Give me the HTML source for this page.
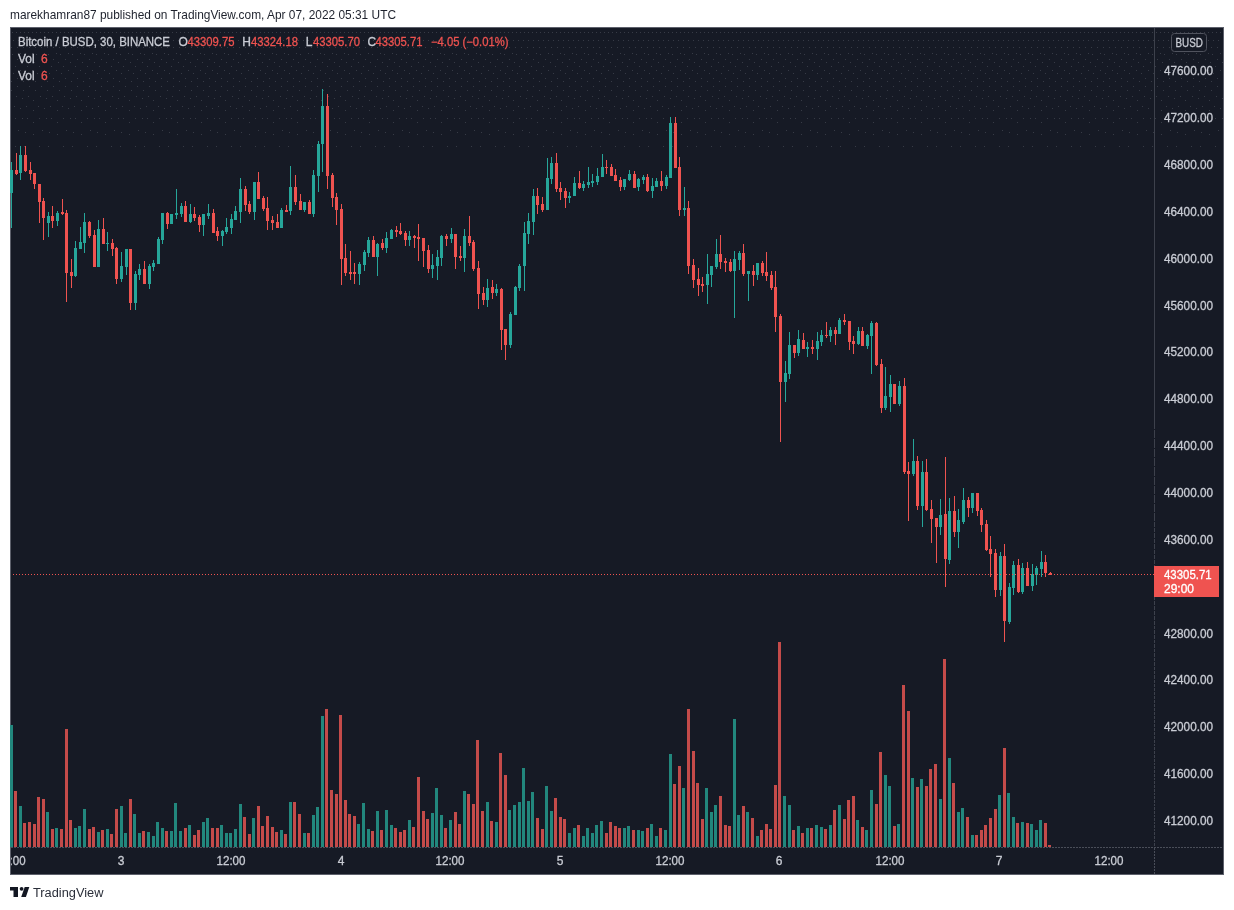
<!DOCTYPE html>
<html><head><meta charset="utf-8"><style>
html,body{margin:0;padding:0;background:#fff;width:1234px;height:910px;overflow:hidden}
svg{display:block;will-change:transform}
text{font-family:"Liberation Sans",sans-serif}
.b text{stroke:currentColor;stroke-width:0.35px}
</style></head><body>
<svg width="1234" height="910" viewBox="0 0 1234 910" shape-rendering="crispEdges">
<rect x="0" y="0" width="1234" height="910" fill="#ffffff"/>
<text x="10" y="19" font-size="13" fill="#1e222d" textLength="386" lengthAdjust="spacingAndGlyphs">marekhamran87 published on TradingView.com, Apr 07, 2022 05:31 UTC</text>
<rect x="10" y="27" width="1214" height="848" fill="#5d606b"/>
<rect x="11" y="28" width="1212" height="846" fill="#161a25"/>
<path d="M12 32h1M16 32h1M20 32h1M24 32h1M28 32h1M32 32h1M36 32h1M40 32h1M44 32h1M48 32h1M52 32h1M56 32h1M60 32h1M64 32h1M68 32h1M72 32h1M76 32h1M80 32h1M84 32h1M88 32h1M92 32h1M96 32h1M100 32h1M104 32h1M108 32h1M112 32h1M116 32h1M120 32h1M124 32h1M128 32h1M132 32h1M136 32h1M140 32h1M144 32h1M148 32h1M152 32h1M156 32h1M160 32h1M164 32h1M168 32h1M172 32h1M176 32h1M180 32h1M184 32h1M188 32h1M192 32h1M196 32h1M200 32h1M204 32h1M208 32h1M212 32h1M216 32h1M220 32h1M224 32h1M228 32h1M232 32h1M236 32h1M240 32h1M244 32h1M248 32h1M252 32h1M256 32h1M260 32h1M264 32h1M268 32h1M272 32h1M276 32h1M280 32h1M284 32h1M288 32h1M292 32h1M296 32h1M300 32h1M304 32h1M308 32h1M312 32h1M316 32h1M320 32h1M324 32h1M328 32h1M332 32h1M336 32h1M340 32h1M344 32h1M348 32h1M352 32h1M356 32h1M360 32h1M364 32h1M368 32h1M372 32h1M376 32h1M380 32h1M384 32h1M388 32h1M392 32h1M396 32h1M400 32h1M404 32h1M408 32h1M412 32h1M416 32h1M420 32h1M424 32h1M428 32h1M432 32h1M436 32h1M440 32h1M444 32h1M448 32h1M452 32h1M456 32h1M460 32h1M464 32h1M468 32h1M472 32h1M476 32h1M480 32h1M484 32h1M488 32h1M492 32h1M496 32h1M500 32h1M504 32h1M508 32h1M512 32h1M516 32h1M520 32h1M524 32h1M528 32h1M532 32h1M536 32h1M540 32h1M544 32h1M548 32h1M552 32h1M556 32h1M560 32h1M564 32h1M568 32h1M572 32h1M576 32h1M580 32h1M584 32h1M588 32h1M592 32h1M596 32h1M600 32h1M604 32h1M608 32h1M612 32h1M616 32h1M620 32h1M624 32h1M628 32h1M632 32h1M636 32h1M640 32h1M644 32h1M648 32h1M652 32h1M656 32h1M660 32h1M664 32h1M668 32h1M672 32h1M676 32h1M680 32h1M684 32h1M688 32h1M692 32h1M696 32h1M700 32h1M704 32h1M708 32h1M712 32h1M716 32h1M720 32h1M724 32h1M728 32h1M732 32h1M736 32h1M740 32h1M744 32h1M748 32h1M752 32h1M756 32h1M760 32h1M764 32h1M768 32h1M772 32h1M776 32h1M780 32h1M784 32h1M788 32h1M792 32h1M796 32h1M800 32h1M804 32h1M808 32h1M812 32h1M816 32h1M820 32h1M824 32h1M828 32h1M832 32h1M836 32h1M840 32h1M844 32h1M848 32h1M852 32h1M856 32h1M860 32h1M864 32h1M868 32h1M872 32h1M876 32h1M880 32h1M884 32h1M888 32h1M892 32h1M896 32h1M900 32h1M904 32h1M908 32h1M912 32h1M916 32h1M920 32h1M924 32h1M928 32h1M932 32h1M936 32h1M940 32h1M944 32h1M948 32h1M952 32h1M956 32h1M960 32h1M964 32h1M968 32h1M972 32h1M976 32h1M980 32h1M984 32h1M988 32h1M992 32h1M996 32h1M1000 32h1M1004 32h1M1008 32h1M1012 32h1M1016 32h1M1020 32h1M1024 32h1M1028 32h1M1032 32h1M1036 32h1M1040 32h1M1044 32h1M1048 32h1M1052 32h1M1056 32h1M1060 32h1M1064 32h1M1068 32h1M1072 32h1M1076 32h1M1080 32h1M1084 32h1M1088 32h1M1092 32h1M1096 32h1M1100 32h1M1104 32h1M1108 32h1M1112 32h1M1116 32h1M1120 32h1M1124 32h1M1128 32h1M1132 32h1M1136 32h1M1140 32h1M1144 32h1M1148 32h1M1152 32h1M1156 32h1M1160 32h1M1164 32h1M1168 32h1M1172 32h1M1176 32h1M1180 32h1M1184 32h1M1188 32h1M1192 32h1M1196 32h1M1200 32h1M1204 32h1M1208 32h1M1212 32h1M1216 32h1M1220 32h1M13 40h1M18 40h1M23 40h1M28 40h1M33 40h1M38 40h1M43 40h1M48 40h1M53 40h1M58 40h1M63 40h1M68 40h1M73 40h1M78 40h1M83 40h1M88 40h1M93 40h1M98 40h1M103 40h1M108 40h1M113 40h1M118 40h1M123 40h1M128 40h1M133 40h1M138 40h1M143 40h1M148 40h1M153 40h1M158 40h1M163 40h1M168 40h1M173 40h1M178 40h1M183 40h1M188 40h1M193 40h1M198 40h1M203 40h1M208 40h1M213 40h1M218 40h1M223 40h1M228 40h1M233 40h1M238 40h1M243 40h1M248 40h1M253 40h1M258 40h1M263 40h1M268 40h1M273 40h1M278 40h1M283 40h1M288 40h1M293 40h1M298 40h1M303 40h1M308 40h1M313 40h1M318 40h1M323 40h1M328 40h1M333 40h1M338 40h1M343 40h1M348 40h1M353 40h1M358 40h1M363 40h1M368 40h1M373 40h1M378 40h1M383 40h1M388 40h1M393 40h1M398 40h1M403 40h1M408 40h1M413 40h1M418 40h1M423 40h1M428 40h1M433 40h1M438 40h1M443 40h1M448 40h1M453 40h1M458 40h1M463 40h1M468 40h1M473 40h1M478 40h1M483 40h1M488 40h1M493 40h1M498 40h1M503 40h1M508 40h1M513 40h1M518 40h1M523 40h1M528 40h1M533 40h1M538 40h1M543 40h1M548 40h1M553 40h1M558 40h1M563 40h1M568 40h1M573 40h1M578 40h1M583 40h1M588 40h1M593 40h1M598 40h1M603 40h1M608 40h1M613 40h1M618 40h1M623 40h1M628 40h1M633 40h1M638 40h1M643 40h1M648 40h1M653 40h1M658 40h1M663 40h1M668 40h1M673 40h1M678 40h1M683 40h1M688 40h1M693 40h1M698 40h1M703 40h1M708 40h1M713 40h1M718 40h1M723 40h1M728 40h1M733 40h1M738 40h1M743 40h1M748 40h1M753 40h1M758 40h1M763 40h1M768 40h1M773 40h1M778 40h1M783 40h1M788 40h1M793 40h1M798 40h1M803 40h1M808 40h1M813 40h1M818 40h1M823 40h1M828 40h1M833 40h1M838 40h1M843 40h1M848 40h1M853 40h1M858 40h1M863 40h1M868 40h1M873 40h1M878 40h1M883 40h1M888 40h1M893 40h1M898 40h1M903 40h1M908 40h1M913 40h1M918 40h1M923 40h1M928 40h1M933 40h1M938 40h1M943 40h1M948 40h1M953 40h1M958 40h1M963 40h1M968 40h1M973 40h1M978 40h1M983 40h1M988 40h1M993 40h1M998 40h1M1003 40h1M1008 40h1M1013 40h1M1018 40h1M1023 40h1M1028 40h1M1033 40h1M1038 40h1M1043 40h1M1048 40h1M1053 40h1M1058 40h1M1063 40h1M1068 40h1M1073 40h1M1078 40h1M1083 40h1M1088 40h1M1093 40h1M1098 40h1M1103 40h1M1108 40h1M1113 40h1M1118 40h1M1123 40h1M1128 40h1M1133 40h1M1138 40h1M1143 40h1M1148 40h1M1153 40h1M1158 40h1M1163 40h1M1168 40h1M1173 40h1M1178 40h1M1183 40h1M1188 40h1M1193 40h1M1198 40h1M1203 40h1M1208 40h1M1213 40h1M1218 40h1M11 47h1M17 47h1M23 47h1M29 47h1M35 47h1M41 47h1M47 47h1M53 47h1M59 47h1M65 47h1M71 47h1M77 47h1M83 47h1M89 47h1M95 47h1M101 47h1M107 47h1M113 47h1M119 47h1M125 47h1M131 47h1M137 47h1M143 47h1M149 47h1M155 47h1M161 47h1M167 47h1M173 47h1M179 47h1M185 47h1M191 47h1M197 47h1M203 47h1M209 47h1M215 47h1M221 47h1M227 47h1M233 47h1M239 47h1M245 47h1M251 47h1M257 47h1M263 47h1M269 47h1M275 47h1M281 47h1M287 47h1M293 47h1M299 47h1M305 47h1M311 47h1M317 47h1M323 47h1M329 47h1M335 47h1M341 47h1M347 47h1M353 47h1M359 47h1M365 47h1M371 47h1M377 47h1M383 47h1M389 47h1M395 47h1M401 47h1M407 47h1M413 47h1M419 47h1M425 47h1M431 47h1M437 47h1M443 47h1M449 47h1M455 47h1M461 47h1M467 47h1M473 47h1M479 47h1M485 47h1M491 47h1M497 47h1M503 47h1M509 47h1M515 47h1M521 47h1M527 47h1M533 47h1M539 47h1M545 47h1M551 47h1M557 47h1M563 47h1M569 47h1M575 47h1M581 47h1M587 47h1M593 47h1M599 47h1M605 47h1M611 47h1M617 47h1M623 47h1M629 47h1M635 47h1M641 47h1M647 47h1M653 47h1M659 47h1M665 47h1M671 47h1M677 47h1M683 47h1M689 47h1M695 47h1M701 47h1M707 47h1M713 47h1M719 47h1M725 47h1M731 47h1M737 47h1M743 47h1M749 47h1M755 47h1M761 47h1M767 47h1M773 47h1M779 47h1M785 47h1M791 47h1M797 47h1M803 47h1M809 47h1M815 47h1M821 47h1M827 47h1M833 47h1M839 47h1M845 47h1M851 47h1M857 47h1M863 47h1M869 47h1M875 47h1M881 47h1M887 47h1M893 47h1M899 47h1M905 47h1M911 47h1M917 47h1M923 47h1M929 47h1M935 47h1M941 47h1M947 47h1M953 47h1M959 47h1M965 47h1M971 47h1M977 47h1M983 47h1M989 47h1M995 47h1M1001 47h1M1007 47h1M1013 47h1M1019 47h1M1025 47h1M1031 47h1M1037 47h1M1043 47h1M1049 47h1M1055 47h1M1061 47h1M1067 47h1M1073 47h1M1079 47h1M1085 47h1M1091 47h1M1097 47h1M1103 47h1M1109 47h1M1115 47h1M1121 47h1M1127 47h1M1133 47h1M1139 47h1M1145 47h1M1151 47h1M1157 47h1M1163 47h1M1169 47h1M1175 47h1M1181 47h1M1187 47h1M1193 47h1M1199 47h1M1205 47h1M1211 47h1M1217 47h1M20 53h1M32 53h1M44 53h1M56 53h1M68 53h1M80 53h1M92 53h1M104 53h1M116 53h1M128 53h1M140 53h1M152 53h1M164 53h1M176 53h1M188 53h1M200 53h1M212 53h1M224 53h1M236 53h1M248 53h1M260 53h1M272 53h1M284 53h1M296 53h1M308 53h1M320 53h1M332 53h1M344 53h1M356 53h1M368 53h1M380 53h1M392 53h1M404 53h1M416 53h1M428 53h1M440 53h1M452 53h1M464 53h1M476 53h1M488 53h1M500 53h1M512 53h1M524 53h1M536 53h1M548 53h1M560 53h1M572 53h1M584 53h1M596 53h1M608 53h1M620 53h1M632 53h1M644 53h1M656 53h1M668 53h1M680 53h1M692 53h1M704 53h1M716 53h1M728 53h1M740 53h1M752 53h1M764 53h1M776 53h1M788 53h1M800 53h1M812 53h1M824 53h1M836 53h1M848 53h1M860 53h1M872 53h1M884 53h1M896 53h1M908 53h1M920 53h1M932 53h1M944 53h1M956 53h1M968 53h1M980 53h1M992 53h1M1004 53h1M1016 53h1M1028 53h1M1040 53h1M1052 53h1M1064 53h1M1076 53h1M1088 53h1M1100 53h1M1112 53h1M1124 53h1M1136 53h1M1148 53h1M1160 53h1M1172 53h1M1184 53h1M1196 53h1M1208 53h1M1220 53h1M12 54h1M24 54h1M36 54h1M48 54h1M60 54h1M72 54h1M84 54h1M96 54h1M108 54h1M120 54h1M132 54h1M144 54h1M156 54h1M168 54h1M180 54h1M192 54h1M204 54h1M216 54h1M228 54h1M240 54h1M252 54h1M264 54h1M276 54h1M288 54h1M300 54h1M312 54h1M324 54h1M336 54h1M348 54h1M360 54h1M372 54h1M384 54h1M396 54h1M408 54h1M420 54h1M432 54h1M444 54h1M456 54h1M468 54h1M480 54h1M492 54h1M504 54h1M516 54h1M528 54h1M540 54h1M552 54h1M564 54h1M576 54h1M588 54h1M600 54h1M612 54h1M624 54h1M636 54h1M648 54h1M660 54h1M672 54h1M684 54h1M696 54h1M708 54h1M720 54h1M732 54h1M744 54h1M756 54h1M768 54h1M780 54h1M792 54h1M804 54h1M816 54h1M828 54h1M840 54h1M852 54h1M864 54h1M876 54h1M888 54h1M900 54h1M912 54h1M924 54h1M936 54h1M948 54h1M960 54h1M972 54h1M984 54h1M996 54h1M1008 54h1M1020 54h1M1032 54h1M1044 54h1M1056 54h1M1068 54h1M1080 54h1M1092 54h1M1104 54h1M1116 54h1M1128 54h1M1140 54h1M1152 54h1M1164 54h1M1176 54h1M1188 54h1M1200 54h1M1212 54h1M17 59h1M29 59h1M41 59h1M53 59h1M65 59h1M77 59h1M89 59h1M101 59h1M113 59h1M125 59h1M137 59h1M149 59h1M161 59h1M173 59h1M185 59h1M197 59h1M209 59h1M221 59h1M233 59h1M245 59h1M257 59h1M269 59h1M281 59h1M293 59h1M305 59h1M317 59h1M329 59h1M341 59h1M353 59h1M365 59h1M377 59h1M389 59h1M401 59h1M413 59h1M425 59h1M437 59h1M449 59h1M461 59h1M473 59h1M485 59h1M497 59h1M509 59h1M521 59h1M533 59h1M545 59h1M557 59h1M569 59h1M581 59h1M593 59h1M605 59h1M617 59h1M629 59h1M641 59h1M653 59h1M665 59h1M677 59h1M689 59h1M701 59h1M713 59h1M725 59h1M737 59h1M749 59h1M761 59h1M773 59h1M785 59h1M797 59h1M809 59h1M821 59h1M833 59h1M845 59h1M857 59h1M869 59h1M881 59h1M893 59h1M905 59h1M917 59h1M929 59h1M941 59h1M953 59h1M965 59h1M977 59h1M989 59h1M1001 59h1M1013 59h1M1025 59h1M1037 59h1M1049 59h1M1061 59h1M1073 59h1M1085 59h1M1097 59h1M1109 59h1M1121 59h1M1133 59h1M1145 59h1M1157 59h1M1169 59h1M1181 59h1M1193 59h1M1205 59h1M1217 59h1M22 62h1M34 62h1M46 62h1M58 62h1M70 62h1M82 62h1M94 62h1M106 62h1M118 62h1M130 62h1M142 62h1M154 62h1M166 62h1M178 62h1M190 62h1M202 62h1M214 62h1M226 62h1M238 62h1M250 62h1M262 62h1M274 62h1M286 62h1M298 62h1M310 62h1M322 62h1M334 62h1M346 62h1M358 62h1M370 62h1M382 62h1M394 62h1M406 62h1M418 62h1M430 62h1M442 62h1M454 62h1M466 62h1M478 62h1M490 62h1M502 62h1M514 62h1M526 62h1M538 62h1M550 62h1M562 62h1M574 62h1M586 62h1M598 62h1M610 62h1M622 62h1M634 62h1M646 62h1M658 62h1M670 62h1M682 62h1M694 62h1M706 62h1M718 62h1M730 62h1M742 62h1M754 62h1M766 62h1M778 62h1M790 62h1M802 62h1M814 62h1M826 62h1M838 62h1M850 62h1M862 62h1M874 62h1M886 62h1M898 62h1M910 62h1M922 62h1M934 62h1M946 62h1M958 62h1M970 62h1M982 62h1M994 62h1M1006 62h1M1018 62h1M1030 62h1M1042 62h1M1054 62h1M1066 62h1M1078 62h1M1090 62h1M1102 62h1M1114 62h1M1126 62h1M1138 62h1M1150 62h1M1162 62h1M1174 62h1M1186 62h1M1198 62h1M1210 62h1M1222 62h1M15 66h1M27 66h1M39 66h1M51 66h1M63 66h1M75 66h1M87 66h1M99 66h1M111 66h1M123 66h1M135 66h1M147 66h1M159 66h1M171 66h1M183 66h1M195 66h1M207 66h1M219 66h1M231 66h1M243 66h1M255 66h1M267 66h1M279 66h1M291 66h1M303 66h1M315 66h1M327 66h1M339 66h1M351 66h1M363 66h1M375 66h1M387 66h1M399 66h1M411 66h1M423 66h1M435 66h1M447 66h1M459 66h1M471 66h1M483 66h1M495 66h1M507 66h1M519 66h1M531 66h1M543 66h1M555 66h1M567 66h1M579 66h1M591 66h1M603 66h1M615 66h1M627 66h1M639 66h1M651 66h1M663 66h1M675 66h1M687 66h1M699 66h1M711 66h1M723 66h1M735 66h1M747 66h1M759 66h1M771 66h1M783 66h1M795 66h1M807 66h1M819 66h1M831 66h1M843 66h1M855 66h1M867 66h1M879 66h1M891 66h1M903 66h1M915 66h1M927 66h1M939 66h1M951 66h1M963 66h1M975 66h1M987 66h1M999 66h1M1011 66h1M1023 66h1M1035 66h1M1047 66h1M1059 66h1M1071 66h1M1083 66h1M1095 66h1M1107 66h1M1119 66h1M1131 66h1M1143 66h1M1155 66h1M1167 66h1M1179 66h1M1191 66h1M1203 66h1M1215 66h1M20 70h1M32 70h1M44 70h1M56 70h1M68 70h1M80 70h1M92 70h1M104 70h1M116 70h1M128 70h1M140 70h1M152 70h1M164 70h1M176 70h1M188 70h1M200 70h1M212 70h1M224 70h1M236 70h1M248 70h1M260 70h1M272 70h1M284 70h1M296 70h1M308 70h1M320 70h1M332 70h1M344 70h1M356 70h1M368 70h1M380 70h1M392 70h1M404 70h1M416 70h1M428 70h1M440 70h1M452 70h1M464 70h1M476 70h1M488 70h1M500 70h1M512 70h1M524 70h1M536 70h1M548 70h1M560 70h1M572 70h1M584 70h1M596 70h1M608 70h1M620 70h1M632 70h1M644 70h1M656 70h1M668 70h1M680 70h1M692 70h1M704 70h1M716 70h1M728 70h1M740 70h1M752 70h1M764 70h1M776 70h1M788 70h1M800 70h1M812 70h1M824 70h1M836 70h1M848 70h1M860 70h1M872 70h1M884 70h1M896 70h1M908 70h1M920 70h1M932 70h1M944 70h1M956 70h1M968 70h1M980 70h1M992 70h1M1004 70h1M1016 70h1M1028 70h1M1040 70h1M1052 70h1M1064 70h1M1076 70h1M1088 70h1M1100 70h1M1112 70h1M1124 70h1M1136 70h1M1148 70h1M1160 70h1M1172 70h1M1184 70h1M1196 70h1M1208 70h1M1220 70h1M13 73h1M25 73h1M37 73h1M49 73h1M61 73h1M73 73h1M85 73h1M97 73h1M109 73h1M121 73h1M133 73h1M145 73h1M157 73h1M169 73h1M181 73h1M193 73h1M205 73h1M217 73h1M229 73h1M241 73h1M253 73h1M265 73h1M277 73h1M289 73h1M301 73h1M313 73h1M325 73h1M337 73h1M349 73h1M361 73h1M373 73h1M385 73h1M397 73h1M409 73h1M421 73h1M433 73h1M445 73h1M457 73h1M469 73h1M481 73h1M493 73h1M505 73h1M517 73h1M529 73h1M541 73h1M553 73h1M565 73h1M577 73h1M589 73h1M601 73h1M613 73h1M625 73h1M637 73h1M649 73h1M661 73h1M673 73h1M685 73h1M697 73h1M709 73h1M721 73h1M733 73h1M745 73h1M757 73h1M769 73h1M781 73h1M793 73h1M805 73h1M817 73h1M829 73h1M841 73h1M853 73h1M865 73h1M877 73h1M889 73h1M901 73h1M913 73h1M925 73h1M937 73h1M949 73h1M961 73h1M973 73h1M985 73h1M997 73h1M1009 73h1M1021 73h1M1033 73h1M1045 73h1M1057 73h1M1069 73h1M1081 73h1M1093 73h1M1105 73h1M1117 73h1M1129 73h1M1141 73h1M1153 73h1M1165 73h1M1177 73h1M1189 73h1M1201 73h1M1213 73h1M17 78h1M29 78h1M41 78h1M53 78h1M65 78h1M77 78h1M89 78h1M101 78h1M113 78h1M125 78h1M137 78h1M149 78h1M161 78h1M173 78h1M185 78h1M197 78h1M209 78h1M221 78h1M233 78h1M245 78h1M257 78h1M269 78h1M281 78h1M293 78h1M305 78h1M317 78h1M329 78h1M341 78h1M353 78h1M365 78h1M377 78h1M389 78h1M401 78h1M413 78h1M425 78h1M437 78h1M449 78h1M461 78h1M473 78h1M485 78h1M497 78h1M509 78h1M521 78h1M533 78h1M545 78h1M557 78h1M569 78h1M581 78h1M593 78h1M605 78h1M617 78h1M629 78h1M641 78h1M653 78h1M665 78h1M677 78h1M689 78h1M701 78h1M713 78h1M725 78h1M737 78h1M749 78h1M761 78h1M773 78h1M785 78h1M797 78h1M809 78h1M821 78h1M833 78h1M845 78h1M857 78h1M869 78h1M881 78h1M893 78h1M905 78h1M917 78h1M929 78h1M941 78h1M953 78h1M965 78h1M977 78h1M989 78h1M1001 78h1M1013 78h1M1025 78h1M1037 78h1M1049 78h1M1061 78h1M1073 78h1M1085 78h1M1097 78h1M1109 78h1M1121 78h1M1133 78h1M1145 78h1M1157 78h1M1169 78h1M1181 78h1M1193 78h1M1205 78h1M1217 78h1M11 81h1M23 81h1M35 81h1M47 81h1M59 81h1M71 81h1M83 81h1M95 81h1M107 81h1M119 81h1M131 81h1M143 81h1M155 81h1M167 81h1M179 81h1M191 81h1M203 81h1M215 81h1M227 81h1M239 81h1M251 81h1M263 81h1M275 81h1M287 81h1M299 81h1M311 81h1M323 81h1M335 81h1M347 81h1M359 81h1M371 81h1M383 81h1M395 81h1M407 81h1M419 81h1M431 81h1M443 81h1M455 81h1M467 81h1M479 81h1M491 81h1M503 81h1M515 81h1M527 81h1M539 81h1M551 81h1M563 81h1M575 81h1M587 81h1M599 81h1M611 81h1M623 81h1M635 81h1M647 81h1M659 81h1M671 81h1M683 81h1M695 81h1M707 81h1M719 81h1M731 81h1M743 81h1M755 81h1M767 81h1M779 81h1M791 81h1M803 81h1M815 81h1M827 81h1M839 81h1M851 81h1M863 81h1M875 81h1M887 81h1M899 81h1M911 81h1M923 81h1M935 81h1M947 81h1M959 81h1M971 81h1M983 81h1M995 81h1M1007 81h1M1019 81h1M1031 81h1M1043 81h1M1055 81h1M1067 81h1M1079 81h1M1091 81h1M1103 81h1M1115 81h1M1127 81h1M1139 81h1M1151 81h1M1163 81h1M1175 81h1M1187 81h1M1199 81h1M1211 81h1M17 86h1M29 86h1M41 86h1M53 86h1M65 86h1M77 86h1M89 86h1M101 86h1M113 86h1M125 86h1M137 86h1M149 86h1M161 86h1M173 86h1M185 86h1M197 86h1M209 86h1M221 86h1M233 86h1M245 86h1M257 86h1M269 86h1M281 86h1M293 86h1M305 86h1M317 86h1M329 86h1M341 86h1M353 86h1M365 86h1M377 86h1M389 86h1M401 86h1M413 86h1M425 86h1M437 86h1M449 86h1M461 86h1M473 86h1M485 86h1M497 86h1M509 86h1M521 86h1M533 86h1M545 86h1M557 86h1M569 86h1M581 86h1M593 86h1M605 86h1M617 86h1M629 86h1M641 86h1M653 86h1M665 86h1M677 86h1M689 86h1M701 86h1M713 86h1M725 86h1M737 86h1M749 86h1M761 86h1M773 86h1M785 86h1M797 86h1M809 86h1M821 86h1M833 86h1M845 86h1M857 86h1M869 86h1M881 86h1M893 86h1M905 86h1M917 86h1M929 86h1M941 86h1M953 86h1M965 86h1M977 86h1M989 86h1M1001 86h1M1013 86h1M1025 86h1M1037 86h1M1049 86h1M1061 86h1M1073 86h1M1085 86h1M1097 86h1M1109 86h1M1121 86h1M1133 86h1M1145 86h1M1157 86h1M1169 86h1M1181 86h1M1193 86h1M1205 86h1M1217 86h1M11 90h1M23 90h1M35 90h1M47 90h1M59 90h1M71 90h1M83 90h1M95 90h1M107 90h1M119 90h1M131 90h1M143 90h1M155 90h1M167 90h1M179 90h1M191 90h1M203 90h1M215 90h1M227 90h1M239 90h1M251 90h1M263 90h1M275 90h1M287 90h1M299 90h1M311 90h1M323 90h1M335 90h1M347 90h1M359 90h1M371 90h1M383 90h1M395 90h1M407 90h1M419 90h1M431 90h1M443 90h1M455 90h1M467 90h1M479 90h1M491 90h1M503 90h1M515 90h1M527 90h1M539 90h1M551 90h1M563 90h1M575 90h1M587 90h1M599 90h1M611 90h1M623 90h1M635 90h1M647 90h1M659 90h1M671 90h1M683 90h1M695 90h1M707 90h1M719 90h1M731 90h1M743 90h1M755 90h1M767 90h1M779 90h1M791 90h1M803 90h1M815 90h1M827 90h1M839 90h1M851 90h1M863 90h1M875 90h1M887 90h1M899 90h1M911 90h1M923 90h1M935 90h1M947 90h1M959 90h1M971 90h1M983 90h1M995 90h1M1007 90h1M1019 90h1M1031 90h1M1043 90h1M1055 90h1M1067 90h1M1079 90h1M1091 90h1M1103 90h1M1115 90h1M1127 90h1M1139 90h1M1151 90h1M1163 90h1M1175 90h1M1187 90h1M1199 90h1M1211 90h1M16 96h1M28 96h1M40 96h1M52 96h1M64 96h1M76 96h1M88 96h1M100 96h1M112 96h1M124 96h1M136 96h1M148 96h1M160 96h1M172 96h1M184 96h1M196 96h1M208 96h1M220 96h1M232 96h1M244 96h1M256 96h1M268 96h1M280 96h1M292 96h1M304 96h1M316 96h1M328 96h1M340 96h1M352 96h1M364 96h1M376 96h1M388 96h1M400 96h1M412 96h1M424 96h1M436 96h1M448 96h1M460 96h1M472 96h1M484 96h1M496 96h1M508 96h1M520 96h1M532 96h1M544 96h1M556 96h1M568 96h1M580 96h1M592 96h1M604 96h1M616 96h1M628 96h1M640 96h1M652 96h1M664 96h1M676 96h1M688 96h1M700 96h1M712 96h1M724 96h1M736 96h1M748 96h1M760 96h1M772 96h1M784 96h1M796 96h1M808 96h1M820 96h1M832 96h1M844 96h1M856 96h1M868 96h1M880 96h1M892 96h1M904 96h1M916 96h1M928 96h1M940 96h1M952 96h1M964 96h1M976 96h1M988 96h1M1000 96h1M1012 96h1M1024 96h1M1036 96h1M1048 96h1M1060 96h1M1072 96h1M1084 96h1M1096 96h1M1108 96h1M1120 96h1M1132 96h1M1144 96h1M1156 96h1M1168 96h1M1180 96h1M1192 96h1M1204 96h1M1216 96h1M22 98h1M46 98h1M70 98h1M94 98h1M118 98h1M142 98h1M166 98h1M190 98h1M214 98h1M238 98h1M262 98h1M286 98h1M310 98h1M334 98h1M358 98h1M382 98h1M406 98h1M430 98h1M454 98h1M478 98h1M502 98h1M526 98h1M550 98h1M574 98h1M598 98h1M622 98h1M646 98h1M670 98h1M694 98h1M718 98h1M742 98h1M766 98h1M790 98h1M814 98h1M838 98h1M862 98h1M886 98h1M910 98h1M934 98h1M958 98h1M982 98h1M1006 98h1M1030 98h1M1054 98h1M1078 98h1M1102 98h1M1126 98h1M1150 98h1M1174 98h1M1198 98h1M1222 98h1M33 100h1M57 100h1M81 100h1M105 100h1M129 100h1M153 100h1M177 100h1M201 100h1M225 100h1M249 100h1M273 100h1M297 100h1M321 100h1M345 100h1M369 100h1M393 100h1M417 100h1M441 100h1M465 100h1M489 100h1M513 100h1M537 100h1M561 100h1M585 100h1M609 100h1M633 100h1M657 100h1M681 100h1M705 100h1M729 100h1M753 100h1M777 100h1M801 100h1M825 100h1M849 100h1M873 100h1M897 100h1M921 100h1M945 100h1M969 100h1M993 100h1M1017 100h1M1041 100h1M1065 100h1M1089 100h1M1113 100h1M1137 100h1M1161 100h1M1185 100h1M1209 100h1M14 106h1M26 106h1M38 106h1M50 106h1M62 106h1M74 106h1M86 106h1M98 106h1M110 106h1M122 106h1M134 106h1M146 106h1M158 106h1M170 106h1M182 106h1M194 106h1M206 106h1M218 106h1M230 106h1M242 106h1M254 106h1M266 106h1M278 106h1M290 106h1M302 106h1M314 106h1M326 106h1M338 106h1M350 106h1M362 106h1M374 106h1M386 106h1M398 106h1M410 106h1M422 106h1M434 106h1M446 106h1M458 106h1M470 106h1M482 106h1M494 106h1M506 106h1M518 106h1M530 106h1M542 106h1M554 106h1M566 106h1M578 106h1M590 106h1M602 106h1M614 106h1M626 106h1M638 106h1M650 106h1M662 106h1M674 106h1M686 106h1M698 106h1M710 106h1M722 106h1M734 106h1M746 106h1M758 106h1M770 106h1M782 106h1M794 106h1M806 106h1M818 106h1M830 106h1M842 106h1M854 106h1M866 106h1M878 106h1M890 106h1M902 106h1M914 106h1M926 106h1M938 106h1M950 106h1M962 106h1M974 106h1M986 106h1M998 106h1M1010 106h1M1022 106h1M1034 106h1M1046 106h1M1058 106h1M1070 106h1M1082 106h1M1094 106h1M1106 106h1M1118 106h1M1130 106h1M1142 106h1M1154 106h1M1166 106h1M1178 106h1M1190 106h1M1202 106h1M1214 106h1M20 108h1M44 108h1M68 108h1M92 108h1M116 108h1M140 108h1M164 108h1M188 108h1M212 108h1M236 108h1M260 108h1M284 108h1M308 108h1M332 108h1M356 108h1M380 108h1M404 108h1M428 108h1M452 108h1M476 108h1M500 108h1M524 108h1M548 108h1M572 108h1M596 108h1M620 108h1M644 108h1M668 108h1M692 108h1M716 108h1M740 108h1M764 108h1M788 108h1M812 108h1M836 108h1M860 108h1M884 108h1M908 108h1M932 108h1M956 108h1M980 108h1M1004 108h1M1028 108h1M1052 108h1M1076 108h1M1100 108h1M1124 108h1M1148 108h1M1172 108h1M1196 108h1M1220 108h1M33 110h1M57 110h1M81 110h1M105 110h1M129 110h1M153 110h1M177 110h1M201 110h1M225 110h1M249 110h1M273 110h1M297 110h1M321 110h1M345 110h1M369 110h1M393 110h1M417 110h1M441 110h1M465 110h1M489 110h1M513 110h1M537 110h1M561 110h1M585 110h1M609 110h1M633 110h1M657 110h1M681 110h1M705 110h1M729 110h1M753 110h1M777 110h1M801 110h1M825 110h1M849 110h1M873 110h1M897 110h1M921 110h1M945 110h1M969 110h1M993 110h1M1017 110h1M1041 110h1M1065 110h1M1089 110h1M1113 110h1M1137 110h1M1161 110h1M1185 110h1M1209 110h1M15 118h1M22 118h1M27 118h1M39 118h1M46 118h1M51 118h1M63 118h1M70 118h1M75 118h1M87 118h1M94 118h1M99 118h1M111 118h1M118 118h1M123 118h1M135 118h1M142 118h1M147 118h1M159 118h1M166 118h1M171 118h1M183 118h1M190 118h1M195 118h1M207 118h1M214 118h1M219 118h1M231 118h1M238 118h1M243 118h1M255 118h1M262 118h1M267 118h1M279 118h1M286 118h1M291 118h1M303 118h1M310 118h1M315 118h1M327 118h1M334 118h1M339 118h1M351 118h1M358 118h1M363 118h1M375 118h1M382 118h1M387 118h1M399 118h1M406 118h1M411 118h1M423 118h1M430 118h1M435 118h1M447 118h1M454 118h1M459 118h1M471 118h1M478 118h1M483 118h1M495 118h1M502 118h1M507 118h1M519 118h1M526 118h1M531 118h1M543 118h1M550 118h1M555 118h1M567 118h1M574 118h1M579 118h1M591 118h1M598 118h1M603 118h1M615 118h1M622 118h1M627 118h1M639 118h1M646 118h1M651 118h1M663 118h1M670 118h1M675 118h1M687 118h1M694 118h1M699 118h1M711 118h1M718 118h1M723 118h1M735 118h1M742 118h1M747 118h1M759 118h1M766 118h1M771 118h1M783 118h1M790 118h1M795 118h1M807 118h1M814 118h1M819 118h1M831 118h1M838 118h1M843 118h1M855 118h1M862 118h1M867 118h1M879 118h1M886 118h1M891 118h1M903 118h1M910 118h1M915 118h1M927 118h1M934 118h1M939 118h1M951 118h1M958 118h1M963 118h1M975 118h1M982 118h1M987 118h1M999 118h1M1006 118h1M1011 118h1M1023 118h1M1030 118h1M1035 118h1M1047 118h1M1054 118h1M1059 118h1M1071 118h1M1078 118h1M1083 118h1M1095 118h1M1102 118h1M1107 118h1M1119 118h1M1126 118h1M1131 118h1M1143 118h1M1150 118h1M1155 118h1M1167 118h1M1174 118h1M1179 118h1M1191 118h1M1198 118h1M1203 118h1M1215 118h1M1222 118h1M33 122h1M57 122h1M81 122h1M105 122h1M129 122h1M153 122h1M177 122h1M201 122h1M225 122h1M249 122h1M273 122h1M297 122h1M321 122h1M345 122h1M369 122h1M393 122h1M417 122h1M441 122h1M465 122h1M489 122h1M513 122h1M537 122h1M561 122h1M585 122h1M609 122h1M633 122h1M657 122h1M681 122h1M705 122h1M729 122h1M753 122h1M777 122h1M801 122h1M825 122h1M849 122h1M873 122h1M897 122h1M921 122h1M945 122h1M969 122h1M993 122h1M1017 122h1M1041 122h1M1065 122h1M1089 122h1M1113 122h1M1137 122h1M1161 122h1M1185 122h1M1209 122h1M18 130h1M42 130h1M66 130h1M90 130h1M114 130h1M138 130h1M162 130h1M186 130h1M210 130h1M234 130h1M258 130h1M282 130h1M306 130h1M330 130h1M354 130h1M378 130h1M402 130h1M426 130h1M450 130h1M474 130h1M498 130h1M522 130h1M546 130h1M570 130h1M594 130h1M618 130h1M642 130h1M666 130h1M690 130h1M714 130h1M738 130h1M762 130h1M786 130h1M810 130h1M834 130h1M858 130h1M882 130h1M906 130h1M930 130h1M954 130h1M978 130h1M1002 130h1M1026 130h1M1050 130h1M1074 130h1M1098 130h1M1122 130h1M1146 130h1M1170 130h1M1194 130h1M1218 130h1M25 132h1M49 132h1M73 132h1M97 132h1M121 132h1M145 132h1M169 132h1M193 132h1M217 132h1M241 132h1M265 132h1M289 132h1M313 132h1M337 132h1M361 132h1M385 132h1M409 132h1M433 132h1M457 132h1M481 132h1M505 132h1M529 132h1M553 132h1M577 132h1M601 132h1M625 132h1M649 132h1M673 132h1M697 132h1M721 132h1M745 132h1M769 132h1M793 132h1M817 132h1M841 132h1M865 132h1M889 132h1M913 132h1M937 132h1M961 132h1M985 132h1M1009 132h1M1033 132h1M1057 132h1M1081 132h1M1105 132h1M1129 132h1M1153 132h1M1177 132h1M1201 132h1M33 134h1M57 134h1M81 134h1M105 134h1M129 134h1M153 134h1M177 134h1M201 134h1M225 134h1M249 134h1M273 134h1M297 134h1M321 134h1M345 134h1M369 134h1M393 134h1M417 134h1M441 134h1M465 134h1M489 134h1M513 134h1M537 134h1M561 134h1M585 134h1M609 134h1M633 134h1M657 134h1M681 134h1M705 134h1M729 134h1M753 134h1M777 134h1M801 134h1M825 134h1M849 134h1M873 134h1M897 134h1M921 134h1M945 134h1M969 134h1M993 134h1M1017 134h1M1041 134h1M1065 134h1M1089 134h1M1113 134h1M1137 134h1M1161 134h1M1185 134h1M1209 134h1M15 146h1M24 146h1M39 146h1M48 146h1M63 146h1M72 146h1M87 146h1M96 146h1M111 146h1M120 146h1M135 146h1M144 146h1M159 146h1M168 146h1M183 146h1M192 146h1M207 146h1M216 146h1M231 146h1M240 146h1M255 146h1M264 146h1M279 146h1M288 146h1M303 146h1M312 146h1M327 146h1M336 146h1M351 146h1M360 146h1M375 146h1M384 146h1M399 146h1M408 146h1M423 146h1M432 146h1M447 146h1M456 146h1M471 146h1M480 146h1M495 146h1M504 146h1M519 146h1M528 146h1M543 146h1M552 146h1M567 146h1M576 146h1M591 146h1M600 146h1M615 146h1M624 146h1M639 146h1M648 146h1M663 146h1M672 146h1M687 146h1M696 146h1M711 146h1M720 146h1M735 146h1M744 146h1M759 146h1M768 146h1M783 146h1M792 146h1M807 146h1M816 146h1M831 146h1M840 146h1M855 146h1M864 146h1M879 146h1M888 146h1M903 146h1M912 146h1M927 146h1M936 146h1M951 146h1M960 146h1M975 146h1M984 146h1M999 146h1M1008 146h1M1023 146h1M1032 146h1M1047 146h1M1056 146h1M1071 146h1M1080 146h1M1095 146h1M1104 146h1M1119 146h1M1128 146h1M1143 146h1M1152 146h1M1167 146h1M1176 146h1M1191 146h1M1200 146h1M1215 146h1" stroke="#373b46" stroke-width="1" transform="translate(0,0.5)"/>
<path d="M1154.5 28V429M1154.5 430V438M1154.5 439V448M1154.5 449V457M1154.5 458V466M1154.5 467V476M1154.5 477V485M1154.5 486V494M1154.5 495V503M1154.5 504V512M1154.5 513V521M1154.5 522V527M1154.5 528V532M1154.5 533V538M1154.5 539V543M1154.5 544V549M1154.5 550V554M1154.5 555V559M1154.5 560V564M1154.5 565V570M1154.5 571V575M1154.5 576V580M1154.5 581V585M1154.5 586V590M1154.5 591V595M1154.5 596V600M1154.5 601V605M1154.5 606V610M1154.5 611V615M1154.5 616V620M1154.5 621V625M1154.5 626V629M1154.5 630V634M1154.5 635V639M1154.5 640V643M1154.5 644V648M1154.5 649V652M1154.5 653V657M1154.5 658V661M1154.5 662V666M1154.5 667V670M1154.5 671V674M1154.5 675V679M1154.5 680V683M1154.5 684V687M1154.5 688V691M1154.5 692V695M1154.5 696V699M1154.5 700V703M1154.5 704V707M1154.5 708V711M1154.5 712V715M1154.5 716V719M1154.5 720V723M1154.5 724V727M1154.5 728V731M1154.5 732V735M1154.5 736V739M1154.5 740V743M1154.5 744V746M1154.5 747V750M1154.5 751V754M1154.5 755V758M1154.5 759V762M1154.5 763V765M1154.5 766V769M1154.5 770V773M1154.5 774V777M1154.5 778V780M1154.5 781V784M1154.5 785V788M1154.5 789V792M1154.5 793V795M1154.5 796V799M1154.5 800V803M1154.5 804V806M1154.5 807V810M1154.5 811V814M1154.5 815V817M1154.5 818V821M1154.5 822V824M1154.5 825V828M1154.5 829V831M1154.5 832V835M1154.5 836V839M1154.5 840V842M1154.5 843V846" stroke="#3d414c" stroke-width="1" fill="none"/><line x1="1154.5" y1="848" x2="1154.5" y2="874" stroke="#4a4e59" stroke-width="1" stroke-dasharray="2 1"/>
<line x1="11" y1="847.5" x2="1223" y2="847.5" stroke="#4a4e59" stroke-width="1" stroke-dasharray="2 1" stroke-dashoffset="0"/>
<g font-size="12" fill="#c9ccd4" stroke="#c9ccd4" stroke-width="0.3" shape-rendering="auto">
<text x="1164" y="75.2" textLength="49" lengthAdjust="spacingAndGlyphs">47600.00</text><text x="1164" y="122.1" textLength="49" lengthAdjust="spacingAndGlyphs">47200.00</text><text x="1164" y="168.9" textLength="49" lengthAdjust="spacingAndGlyphs">46800.00</text><text x="1164" y="215.8" textLength="49" lengthAdjust="spacingAndGlyphs">46400.00</text><text x="1164" y="262.6" textLength="49" lengthAdjust="spacingAndGlyphs">46000.00</text><text x="1164" y="309.5" textLength="49" lengthAdjust="spacingAndGlyphs">45600.00</text><text x="1164" y="356.3" textLength="49" lengthAdjust="spacingAndGlyphs">45200.00</text><text x="1164" y="403.2" textLength="49" lengthAdjust="spacingAndGlyphs">44800.00</text><text x="1164" y="450.1" textLength="49" lengthAdjust="spacingAndGlyphs">44400.00</text><text x="1164" y="496.9" textLength="49" lengthAdjust="spacingAndGlyphs">44000.00</text><text x="1164" y="543.8" textLength="49" lengthAdjust="spacingAndGlyphs">43600.00</text><text x="1164" y="637.5" textLength="49" lengthAdjust="spacingAndGlyphs">42800.00</text><text x="1164" y="684.3" textLength="49" lengthAdjust="spacingAndGlyphs">42400.00</text><text x="1164" y="731.2" textLength="49" lengthAdjust="spacingAndGlyphs">42000.00</text><text x="1164" y="778.1" textLength="49" lengthAdjust="spacingAndGlyphs">41600.00</text><text x="1164" y="824.9" textLength="49" lengthAdjust="spacingAndGlyphs">41200.00</text>
</g>
<g font-size="12" fill="#c9ccd4" stroke="#c9ccd4" stroke-width="0.3" shape-rendering="auto">
<text x="9.6" y="865" textLength="16" lengthAdjust="spacingAndGlyphs">:00</text><text x="121" y="865" text-anchor="middle">3</text><text x="231" y="865" text-anchor="middle" textLength="29" lengthAdjust="spacingAndGlyphs">12:00</text><text x="341" y="865" text-anchor="middle">4</text><text x="450" y="865" text-anchor="middle" textLength="29" lengthAdjust="spacingAndGlyphs">12:00</text><text x="560" y="865" text-anchor="middle">5</text><text x="670" y="865" text-anchor="middle" textLength="29" lengthAdjust="spacingAndGlyphs">12:00</text><text x="779" y="865" text-anchor="middle">6</text><text x="890" y="865" text-anchor="middle" textLength="29" lengthAdjust="spacingAndGlyphs">12:00</text><text x="999" y="865" text-anchor="middle">7</text><text x="1109" y="865" text-anchor="middle" textLength="29" lengthAdjust="spacingAndGlyphs">12:00</text>
</g>
<rect x="1171.5" y="33.5" width="35" height="18" rx="3" fill="#161a25" stroke="#50535e" stroke-width="1" shape-rendering="auto"/>
<text x="1175.5" y="46.8" font-size="12" fill="#c9ccd4" stroke="#c9ccd4" stroke-width="0.3" textLength="27.4" lengthAdjust="spacingAndGlyphs">BUSD</text>
<g><rect x="10" y="725" width="3" height="122" fill="#22877d"/><rect x="14" y="791" width="3" height="56" fill="#c44b4a"/><rect x="19" y="806" width="3" height="41" fill="#22877d"/><rect x="23" y="823" width="3" height="24" fill="#c44b4a"/><rect x="28" y="822" width="3" height="25" fill="#c44b4a"/><rect x="33" y="824" width="3" height="23" fill="#c44b4a"/><rect x="37" y="797" width="3" height="50" fill="#c44b4a"/><rect x="42" y="799" width="3" height="48" fill="#c44b4a"/><rect x="46" y="812" width="3" height="35" fill="#22877d"/><rect x="51" y="829" width="3" height="18" fill="#c44b4a"/><rect x="55" y="828" width="3" height="19" fill="#22877d"/><rect x="60" y="829" width="3" height="18" fill="#c44b4a"/><rect x="65" y="729" width="3" height="118" fill="#c44b4a"/><rect x="69" y="820" width="3" height="27" fill="#c44b4a"/><rect x="74" y="828" width="3" height="19" fill="#22877d"/><rect x="78" y="826" width="3" height="21" fill="#22877d"/><rect x="83" y="809" width="3" height="38" fill="#22877d"/><rect x="88" y="829" width="3" height="18" fill="#c44b4a"/><rect x="92" y="827" width="3" height="20" fill="#c44b4a"/><rect x="97" y="832" width="3" height="15" fill="#22877d"/><rect x="101" y="830" width="3" height="17" fill="#c44b4a"/><rect x="106" y="829" width="3" height="18" fill="#22877d"/><rect x="110" y="834" width="3" height="13" fill="#c44b4a"/><rect x="115" y="809" width="3" height="38" fill="#c44b4a"/><rect x="120" y="806" width="3" height="41" fill="#22877d"/><rect x="124" y="833" width="3" height="14" fill="#22877d"/><rect x="129" y="799" width="3" height="48" fill="#c44b4a"/><rect x="133" y="814" width="3" height="33" fill="#22877d"/><rect x="138" y="833" width="3" height="14" fill="#22877d"/><rect x="142" y="831" width="3" height="16" fill="#c44b4a"/><rect x="147" y="832" width="3" height="15" fill="#22877d"/><rect x="152" y="836" width="3" height="11" fill="#22877d"/><rect x="156" y="822" width="3" height="25" fill="#22877d"/><rect x="161" y="828" width="3" height="19" fill="#22877d"/><rect x="165" y="831" width="3" height="16" fill="#c44b4a"/><rect x="170" y="831" width="3" height="16" fill="#22877d"/><rect x="174" y="803" width="3" height="44" fill="#22877d"/><rect x="179" y="831" width="3" height="16" fill="#22877d"/><rect x="184" y="828" width="3" height="19" fill="#c44b4a"/><rect x="188" y="825" width="3" height="22" fill="#22877d"/><rect x="193" y="835" width="3" height="12" fill="#c44b4a"/><rect x="197" y="830" width="3" height="17" fill="#c44b4a"/><rect x="202" y="822" width="3" height="25" fill="#22877d"/><rect x="206" y="818" width="3" height="29" fill="#22877d"/><rect x="211" y="828" width="3" height="19" fill="#c44b4a"/><rect x="216" y="828" width="3" height="19" fill="#c44b4a"/><rect x="220" y="825" width="3" height="22" fill="#22877d"/><rect x="225" y="833" width="3" height="14" fill="#22877d"/><rect x="229" y="833" width="3" height="14" fill="#22877d"/><rect x="234" y="829" width="3" height="18" fill="#22877d"/><rect x="239" y="804" width="3" height="43" fill="#22877d"/><rect x="243" y="817" width="3" height="30" fill="#c44b4a"/><rect x="248" y="834" width="3" height="13" fill="#c44b4a"/><rect x="252" y="818" width="3" height="29" fill="#22877d"/><rect x="257" y="806" width="3" height="41" fill="#c44b4a"/><rect x="261" y="826" width="3" height="21" fill="#c44b4a"/><rect x="266" y="816" width="3" height="31" fill="#c44b4a"/><rect x="271" y="827" width="3" height="20" fill="#c44b4a"/><rect x="275" y="832" width="3" height="15" fill="#c44b4a"/><rect x="280" y="830" width="3" height="17" fill="#22877d"/><rect x="284" y="834" width="3" height="13" fill="#c44b4a"/><rect x="289" y="802" width="3" height="45" fill="#22877d"/><rect x="293" y="802" width="3" height="45" fill="#c44b4a"/><rect x="298" y="814" width="3" height="33" fill="#c44b4a"/><rect x="303" y="833" width="3" height="14" fill="#22877d"/><rect x="307" y="833" width="3" height="14" fill="#c44b4a"/><rect x="312" y="815" width="3" height="32" fill="#22877d"/><rect x="316" y="807" width="3" height="40" fill="#22877d"/><rect x="321" y="716" width="3" height="131" fill="#22877d"/><rect x="325" y="709" width="3" height="138" fill="#c44b4a"/><rect x="330" y="790" width="3" height="57" fill="#c44b4a"/><rect x="335" y="794" width="3" height="53" fill="#c44b4a"/><rect x="339" y="715" width="3" height="132" fill="#c44b4a"/><rect x="344" y="800" width="3" height="47" fill="#c44b4a"/><rect x="348" y="814" width="3" height="33" fill="#c44b4a"/><rect x="353" y="816" width="3" height="31" fill="#c44b4a"/><rect x="357" y="824" width="3" height="23" fill="#22877d"/><rect x="362" y="803" width="3" height="44" fill="#22877d"/><rect x="367" y="829" width="3" height="18" fill="#22877d"/><rect x="371" y="831" width="3" height="16" fill="#c44b4a"/><rect x="376" y="811" width="3" height="36" fill="#22877d"/><rect x="380" y="830" width="3" height="17" fill="#c44b4a"/><rect x="385" y="810" width="3" height="37" fill="#22877d"/><rect x="390" y="825" width="3" height="22" fill="#22877d"/><rect x="394" y="828" width="3" height="19" fill="#c44b4a"/><rect x="399" y="832" width="3" height="15" fill="#c44b4a"/><rect x="403" y="830" width="3" height="17" fill="#c44b4a"/><rect x="408" y="820" width="3" height="27" fill="#22877d"/><rect x="412" y="827" width="3" height="20" fill="#c44b4a"/><rect x="417" y="777" width="3" height="70" fill="#c44b4a"/><rect x="422" y="811" width="3" height="36" fill="#c44b4a"/><rect x="426" y="819" width="3" height="28" fill="#c44b4a"/><rect x="431" y="813" width="3" height="34" fill="#22877d"/><rect x="435" y="788" width="3" height="59" fill="#22877d"/><rect x="440" y="815" width="3" height="32" fill="#22877d"/><rect x="444" y="828" width="3" height="19" fill="#c44b4a"/><rect x="449" y="820" width="3" height="27" fill="#22877d"/><rect x="454" y="812" width="3" height="35" fill="#c44b4a"/><rect x="458" y="824" width="3" height="23" fill="#c44b4a"/><rect x="463" y="791" width="3" height="56" fill="#22877d"/><rect x="467" y="794" width="3" height="53" fill="#c44b4a"/><rect x="472" y="804" width="3" height="43" fill="#c44b4a"/><rect x="476" y="740" width="3" height="107" fill="#c44b4a"/><rect x="481" y="811" width="3" height="36" fill="#c44b4a"/><rect x="486" y="802" width="3" height="45" fill="#22877d"/><rect x="490" y="821" width="3" height="26" fill="#c44b4a"/><rect x="495" y="822" width="3" height="25" fill="#22877d"/><rect x="499" y="753" width="3" height="94" fill="#c44b4a"/><rect x="504" y="775" width="3" height="72" fill="#c44b4a"/><rect x="508" y="810" width="3" height="37" fill="#22877d"/><rect x="513" y="805" width="3" height="42" fill="#22877d"/><rect x="518" y="802" width="3" height="45" fill="#22877d"/><rect x="522" y="768" width="3" height="79" fill="#22877d"/><rect x="527" y="801" width="3" height="46" fill="#22877d"/><rect x="531" y="792" width="3" height="55" fill="#22877d"/><rect x="536" y="818" width="3" height="29" fill="#c44b4a"/><rect x="541" y="829" width="3" height="18" fill="#c44b4a"/><rect x="545" y="786" width="3" height="61" fill="#22877d"/><rect x="550" y="811" width="3" height="36" fill="#22877d"/><rect x="554" y="798" width="3" height="49" fill="#c44b4a"/><rect x="559" y="817" width="3" height="30" fill="#c44b4a"/><rect x="563" y="819" width="3" height="28" fill="#c44b4a"/><rect x="568" y="833" width="3" height="14" fill="#22877d"/><rect x="573" y="828" width="3" height="19" fill="#22877d"/><rect x="577" y="825" width="3" height="22" fill="#c44b4a"/><rect x="582" y="836" width="3" height="11" fill="#22877d"/><rect x="586" y="828" width="3" height="19" fill="#22877d"/><rect x="591" y="833" width="3" height="14" fill="#22877d"/><rect x="595" y="825" width="3" height="22" fill="#22877d"/><rect x="600" y="821" width="3" height="26" fill="#22877d"/><rect x="605" y="833" width="3" height="14" fill="#c44b4a"/><rect x="609" y="822" width="3" height="25" fill="#c44b4a"/><rect x="614" y="826" width="3" height="21" fill="#c44b4a"/><rect x="618" y="828" width="3" height="19" fill="#c44b4a"/><rect x="623" y="828" width="3" height="19" fill="#22877d"/><rect x="627" y="826" width="3" height="21" fill="#22877d"/><rect x="632" y="830" width="3" height="17" fill="#c44b4a"/><rect x="637" y="830" width="3" height="17" fill="#22877d"/><rect x="641" y="831" width="3" height="16" fill="#22877d"/><rect x="646" y="828" width="3" height="19" fill="#c44b4a"/><rect x="650" y="824" width="3" height="23" fill="#22877d"/><rect x="655" y="836" width="3" height="11" fill="#22877d"/><rect x="659" y="828" width="3" height="19" fill="#c44b4a"/><rect x="664" y="830" width="3" height="17" fill="#22877d"/><rect x="669" y="754" width="3" height="93" fill="#22877d"/><rect x="673" y="784" width="3" height="63" fill="#c44b4a"/><rect x="678" y="766" width="3" height="81" fill="#c44b4a"/><rect x="682" y="788" width="3" height="59" fill="#22877d"/><rect x="687" y="709" width="3" height="138" fill="#c44b4a"/><rect x="692" y="751" width="3" height="96" fill="#c44b4a"/><rect x="696" y="783" width="3" height="64" fill="#c44b4a"/><rect x="701" y="819" width="3" height="28" fill="#c44b4a"/><rect x="705" y="788" width="3" height="59" fill="#22877d"/><rect x="710" y="812" width="3" height="35" fill="#22877d"/><rect x="714" y="805" width="3" height="42" fill="#22877d"/><rect x="719" y="796" width="3" height="51" fill="#c44b4a"/><rect x="724" y="825" width="3" height="22" fill="#c44b4a"/><rect x="728" y="826" width="3" height="21" fill="#c44b4a"/><rect x="733" y="719" width="3" height="128" fill="#22877d"/><rect x="737" y="815" width="3" height="32" fill="#22877d"/><rect x="742" y="806" width="3" height="41" fill="#c44b4a"/><rect x="746" y="812" width="3" height="35" fill="#22877d"/><rect x="751" y="818" width="3" height="29" fill="#c44b4a"/><rect x="756" y="836" width="3" height="11" fill="#22877d"/><rect x="760" y="830" width="3" height="17" fill="#c44b4a"/><rect x="765" y="824" width="3" height="23" fill="#c44b4a"/><rect x="769" y="829" width="3" height="18" fill="#c44b4a"/><rect x="774" y="785" width="3" height="62" fill="#c44b4a"/><rect x="778" y="642" width="3" height="205" fill="#c44b4a"/><rect x="783" y="796" width="3" height="51" fill="#22877d"/><rect x="788" y="805" width="3" height="42" fill="#22877d"/><rect x="792" y="830" width="3" height="17" fill="#c44b4a"/><rect x="797" y="826" width="3" height="21" fill="#22877d"/><rect x="801" y="833" width="3" height="14" fill="#c44b4a"/><rect x="806" y="828" width="3" height="19" fill="#22877d"/><rect x="810" y="828" width="3" height="19" fill="#c44b4a"/><rect x="815" y="825" width="3" height="22" fill="#22877d"/><rect x="820" y="827" width="3" height="20" fill="#22877d"/><rect x="824" y="829" width="3" height="18" fill="#c44b4a"/><rect x="829" y="825" width="3" height="22" fill="#22877d"/><rect x="833" y="810" width="3" height="37" fill="#c44b4a"/><rect x="838" y="805" width="3" height="42" fill="#22877d"/><rect x="843" y="819" width="3" height="28" fill="#c44b4a"/><rect x="847" y="800" width="3" height="47" fill="#c44b4a"/><rect x="852" y="796" width="3" height="51" fill="#c44b4a"/><rect x="856" y="820" width="3" height="27" fill="#22877d"/><rect x="861" y="827" width="3" height="20" fill="#c44b4a"/><rect x="865" y="830" width="3" height="17" fill="#22877d"/><rect x="870" y="790" width="3" height="57" fill="#22877d"/><rect x="875" y="804" width="3" height="43" fill="#c44b4a"/><rect x="879" y="752" width="3" height="95" fill="#c44b4a"/><rect x="884" y="775" width="3" height="72" fill="#22877d"/><rect x="888" y="786" width="3" height="61" fill="#22877d"/><rect x="893" y="826" width="3" height="21" fill="#c44b4a"/><rect x="897" y="824" width="3" height="23" fill="#22877d"/><rect x="902" y="685" width="3" height="162" fill="#c44b4a"/><rect x="907" y="711" width="3" height="136" fill="#c44b4a"/><rect x="911" y="778" width="3" height="69" fill="#22877d"/><rect x="916" y="787" width="3" height="60" fill="#c44b4a"/><rect x="920" y="779" width="3" height="68" fill="#22877d"/><rect x="925" y="786" width="3" height="61" fill="#c44b4a"/><rect x="929" y="769" width="3" height="78" fill="#c44b4a"/><rect x="934" y="764" width="3" height="83" fill="#c44b4a"/><rect x="939" y="799" width="3" height="48" fill="#22877d"/><rect x="943" y="659" width="3" height="188" fill="#c44b4a"/><rect x="948" y="758" width="3" height="89" fill="#22877d"/><rect x="952" y="783" width="3" height="64" fill="#c44b4a"/><rect x="957" y="812" width="3" height="35" fill="#22877d"/><rect x="961" y="808" width="3" height="39" fill="#22877d"/><rect x="966" y="817" width="3" height="30" fill="#c44b4a"/><rect x="971" y="835" width="3" height="12" fill="#22877d"/><rect x="975" y="835" width="3" height="12" fill="#c44b4a"/><rect x="980" y="830" width="3" height="17" fill="#c44b4a"/><rect x="984" y="825" width="3" height="22" fill="#c44b4a"/><rect x="989" y="818" width="3" height="29" fill="#c44b4a"/><rect x="994" y="809" width="3" height="38" fill="#c44b4a"/><rect x="998" y="795" width="3" height="52" fill="#22877d"/><rect x="1003" y="748" width="3" height="99" fill="#c44b4a"/><rect x="1007" y="793" width="3" height="54" fill="#22877d"/><rect x="1012" y="817" width="3" height="30" fill="#22877d"/><rect x="1016" y="823" width="3" height="24" fill="#c44b4a"/><rect x="1021" y="822" width="3" height="25" fill="#22877d"/><rect x="1026" y="823" width="3" height="24" fill="#c44b4a"/><rect x="1030" y="824" width="3" height="23" fill="#22877d"/><rect x="1035" y="830" width="3" height="17" fill="#22877d"/><rect x="1039" y="820" width="3" height="27" fill="#22877d"/><rect x="1044" y="823" width="3" height="24" fill="#c44b4a"/><rect x="1048" y="845" width="3" height="2" fill="#c44b4a"/></g>
<g><rect x="11" y="162" width="1" height="66" fill="#26a69a"/><rect x="10" y="170" width="3" height="23" fill="#26a69a"/><rect x="16" y="153" width="1" height="22" fill="#ef5350"/><rect x="15" y="170" width="3" height="4" fill="#ef5350"/><rect x="20" y="146" width="1" height="34" fill="#26a69a"/><rect x="19" y="155" width="3" height="18" fill="#26a69a"/><rect x="25" y="146" width="1" height="26" fill="#ef5350"/><rect x="24" y="155" width="3" height="16" fill="#ef5350"/><rect x="30" y="162" width="1" height="18" fill="#ef5350"/><rect x="29" y="170" width="3" height="4" fill="#ef5350"/><rect x="34" y="173" width="1" height="16" fill="#ef5350"/><rect x="33" y="173" width="3" height="11" fill="#ef5350"/><rect x="39" y="184" width="1" height="39" fill="#ef5350"/><rect x="38" y="184" width="3" height="18" fill="#ef5350"/><rect x="43" y="198" width="1" height="42" fill="#ef5350"/><rect x="42" y="201" width="3" height="17" fill="#ef5350"/><rect x="48" y="212" width="1" height="25" fill="#26a69a"/><rect x="47" y="216" width="3" height="7" fill="#26a69a"/><rect x="52" y="206" width="1" height="22" fill="#ef5350"/><rect x="51" y="216" width="3" height="5" fill="#ef5350"/><rect x="57" y="211" width="1" height="15" fill="#26a69a"/><rect x="56" y="213" width="3" height="8" fill="#26a69a"/><rect x="62" y="199" width="1" height="16" fill="#ef5350"/><rect x="61" y="212" width="3" height="2" fill="#ef5350"/><rect x="66" y="210" width="1" height="92" fill="#ef5350"/><rect x="65" y="213" width="3" height="60" fill="#ef5350"/><rect x="71" y="259" width="1" height="29" fill="#ef5350"/><rect x="70" y="272" width="3" height="4" fill="#ef5350"/><rect x="75" y="241" width="1" height="36" fill="#26a69a"/><rect x="74" y="248" width="3" height="28" fill="#26a69a"/><rect x="80" y="227" width="1" height="22" fill="#26a69a"/><rect x="79" y="242" width="3" height="7" fill="#26a69a"/><rect x="84" y="213" width="1" height="40" fill="#26a69a"/><rect x="83" y="222" width="3" height="21" fill="#26a69a"/><rect x="89" y="221" width="1" height="17" fill="#ef5350"/><rect x="88" y="222" width="3" height="14" fill="#ef5350"/><rect x="94" y="230" width="1" height="37" fill="#ef5350"/><rect x="93" y="235" width="3" height="32" fill="#ef5350"/><rect x="98" y="220" width="1" height="47" fill="#26a69a"/><rect x="97" y="229" width="3" height="38" fill="#26a69a"/><rect x="103" y="218" width="1" height="26" fill="#ef5350"/><rect x="102" y="229" width="3" height="15" fill="#ef5350"/><rect x="107" y="232" width="1" height="19" fill="#26a69a"/><rect x="106" y="243" width="3" height="1" fill="#26a69a"/><rect x="112" y="239" width="1" height="17" fill="#ef5350"/><rect x="111" y="243" width="3" height="6" fill="#ef5350"/><rect x="116" y="247" width="1" height="37" fill="#ef5350"/><rect x="115" y="248" width="3" height="31" fill="#ef5350"/><rect x="121" y="252" width="1" height="30" fill="#26a69a"/><rect x="120" y="266" width="3" height="13" fill="#26a69a"/><rect x="126" y="249" width="1" height="26" fill="#26a69a"/><rect x="125" y="249" width="3" height="18" fill="#26a69a"/><rect x="130" y="249" width="1" height="61" fill="#ef5350"/><rect x="129" y="249" width="3" height="54" fill="#ef5350"/><rect x="135" y="271" width="1" height="39" fill="#26a69a"/><rect x="134" y="274" width="3" height="29" fill="#26a69a"/><rect x="139" y="264" width="1" height="16" fill="#26a69a"/><rect x="138" y="269" width="3" height="6" fill="#26a69a"/><rect x="144" y="261" width="1" height="23" fill="#ef5350"/><rect x="143" y="269" width="3" height="15" fill="#ef5350"/><rect x="149" y="264" width="1" height="25" fill="#26a69a"/><rect x="148" y="266" width="3" height="18" fill="#26a69a"/><rect x="153" y="260" width="1" height="11" fill="#26a69a"/><rect x="152" y="263" width="3" height="4" fill="#26a69a"/><rect x="158" y="237" width="1" height="27" fill="#26a69a"/><rect x="157" y="239" width="3" height="25" fill="#26a69a"/><rect x="162" y="213" width="1" height="31" fill="#26a69a"/><rect x="161" y="213" width="3" height="27" fill="#26a69a"/><rect x="167" y="212" width="1" height="17" fill="#ef5350"/><rect x="166" y="213" width="3" height="11" fill="#ef5350"/><rect x="171" y="214" width="1" height="10" fill="#26a69a"/><rect x="170" y="214" width="3" height="10" fill="#26a69a"/><rect x="176" y="189" width="1" height="30" fill="#26a69a"/><rect x="175" y="213" width="3" height="2" fill="#26a69a"/><rect x="181" y="203" width="1" height="14" fill="#26a69a"/><rect x="180" y="206" width="3" height="8" fill="#26a69a"/><rect x="185" y="201" width="1" height="21" fill="#ef5350"/><rect x="184" y="206" width="3" height="16" fill="#ef5350"/><rect x="190" y="204" width="1" height="19" fill="#26a69a"/><rect x="189" y="214" width="3" height="8" fill="#26a69a"/><rect x="194" y="207" width="1" height="14" fill="#ef5350"/><rect x="193" y="214" width="3" height="4" fill="#ef5350"/><rect x="199" y="215" width="1" height="17" fill="#ef5350"/><rect x="198" y="217" width="3" height="8" fill="#ef5350"/><rect x="203" y="214" width="1" height="22" fill="#26a69a"/><rect x="202" y="214" width="3" height="11" fill="#26a69a"/><rect x="208" y="204" width="1" height="15" fill="#26a69a"/><rect x="207" y="213" width="3" height="3" fill="#26a69a"/><rect x="213" y="209" width="1" height="24" fill="#ef5350"/><rect x="212" y="213" width="3" height="20" fill="#ef5350"/><rect x="217" y="227" width="1" height="14" fill="#ef5350"/><rect x="216" y="231" width="3" height="5" fill="#ef5350"/><rect x="222" y="230" width="1" height="16" fill="#26a69a"/><rect x="221" y="231" width="3" height="5" fill="#26a69a"/><rect x="226" y="218" width="1" height="16" fill="#26a69a"/><rect x="225" y="227" width="3" height="5" fill="#26a69a"/><rect x="231" y="214" width="1" height="20" fill="#26a69a"/><rect x="230" y="219" width="3" height="9" fill="#26a69a"/><rect x="235" y="206" width="1" height="14" fill="#26a69a"/><rect x="234" y="211" width="3" height="9" fill="#26a69a"/><rect x="240" y="178" width="1" height="45" fill="#26a69a"/><rect x="239" y="189" width="3" height="23" fill="#26a69a"/><rect x="245" y="186" width="1" height="25" fill="#ef5350"/><rect x="244" y="189" width="3" height="16" fill="#ef5350"/><rect x="249" y="201" width="1" height="13" fill="#ef5350"/><rect x="248" y="204" width="3" height="8" fill="#ef5350"/><rect x="254" y="182" width="1" height="38" fill="#26a69a"/><rect x="253" y="182" width="3" height="30" fill="#26a69a"/><rect x="258" y="172" width="1" height="27" fill="#ef5350"/><rect x="257" y="182" width="3" height="17" fill="#ef5350"/><rect x="263" y="196" width="1" height="15" fill="#ef5350"/><rect x="262" y="198" width="3" height="11" fill="#ef5350"/><rect x="267" y="197" width="1" height="33" fill="#ef5350"/><rect x="266" y="208" width="3" height="13" fill="#ef5350"/><rect x="272" y="216" width="1" height="14" fill="#ef5350"/><rect x="271" y="220" width="3" height="3" fill="#ef5350"/><rect x="277" y="214" width="1" height="14" fill="#ef5350"/><rect x="276" y="222" width="3" height="6" fill="#ef5350"/><rect x="281" y="208" width="1" height="20" fill="#26a69a"/><rect x="280" y="210" width="3" height="18" fill="#26a69a"/><rect x="286" y="205" width="1" height="7" fill="#ef5350"/><rect x="285" y="210" width="3" height="2" fill="#ef5350"/><rect x="290" y="166" width="1" height="49" fill="#26a69a"/><rect x="289" y="187" width="3" height="24" fill="#26a69a"/><rect x="295" y="175" width="1" height="30" fill="#ef5350"/><rect x="294" y="187" width="3" height="15" fill="#ef5350"/><rect x="300" y="194" width="1" height="16" fill="#ef5350"/><rect x="299" y="201" width="3" height="9" fill="#ef5350"/><rect x="304" y="202" width="1" height="10" fill="#26a69a"/><rect x="303" y="202" width="3" height="8" fill="#26a69a"/><rect x="309" y="200" width="1" height="14" fill="#ef5350"/><rect x="308" y="202" width="3" height="12" fill="#ef5350"/><rect x="313" y="170" width="1" height="47" fill="#26a69a"/><rect x="312" y="175" width="3" height="39" fill="#26a69a"/><rect x="318" y="141" width="1" height="51" fill="#26a69a"/><rect x="317" y="144" width="3" height="32" fill="#26a69a"/><rect x="322" y="89" width="1" height="83" fill="#26a69a"/><rect x="321" y="106" width="3" height="38" fill="#26a69a"/><rect x="327" y="94" width="1" height="95" fill="#ef5350"/><rect x="326" y="106" width="3" height="70" fill="#ef5350"/><rect x="332" y="173" width="1" height="34" fill="#ef5350"/><rect x="331" y="175" width="3" height="23" fill="#ef5350"/><rect x="336" y="193" width="1" height="32" fill="#ef5350"/><rect x="335" y="197" width="3" height="13" fill="#ef5350"/><rect x="341" y="204" width="1" height="81" fill="#ef5350"/><rect x="340" y="209" width="3" height="50" fill="#ef5350"/><rect x="345" y="244" width="1" height="32" fill="#ef5350"/><rect x="344" y="258" width="3" height="15" fill="#ef5350"/><rect x="350" y="251" width="1" height="29" fill="#ef5350"/><rect x="349" y="272" width="3" height="2" fill="#ef5350"/><rect x="354" y="263" width="1" height="21" fill="#ef5350"/><rect x="353" y="272" width="3" height="2" fill="#ef5350"/><rect x="359" y="262" width="1" height="23" fill="#26a69a"/><rect x="358" y="264" width="3" height="10" fill="#26a69a"/><rect x="364" y="250" width="1" height="21" fill="#26a69a"/><rect x="363" y="252" width="3" height="13" fill="#26a69a"/><rect x="368" y="237" width="1" height="20" fill="#26a69a"/><rect x="367" y="240" width="3" height="13" fill="#26a69a"/><rect x="373" y="236" width="1" height="21" fill="#ef5350"/><rect x="372" y="240" width="3" height="17" fill="#ef5350"/><rect x="377" y="243" width="1" height="33" fill="#26a69a"/><rect x="376" y="244" width="3" height="13" fill="#26a69a"/><rect x="382" y="239" width="1" height="11" fill="#ef5350"/><rect x="381" y="243" width="3" height="5" fill="#ef5350"/><rect x="386" y="232" width="1" height="21" fill="#26a69a"/><rect x="385" y="238" width="3" height="10" fill="#26a69a"/><rect x="391" y="229" width="1" height="10" fill="#26a69a"/><rect x="390" y="230" width="3" height="9" fill="#26a69a"/><rect x="396" y="226" width="1" height="11" fill="#ef5350"/><rect x="395" y="230" width="3" height="2" fill="#ef5350"/><rect x="400" y="223" width="1" height="12" fill="#ef5350"/><rect x="399" y="231" width="3" height="3" fill="#ef5350"/><rect x="405" y="231" width="1" height="15" fill="#ef5350"/><rect x="404" y="233" width="3" height="7" fill="#ef5350"/><rect x="409" y="231" width="1" height="15" fill="#26a69a"/><rect x="408" y="236" width="3" height="4" fill="#26a69a"/><rect x="414" y="235" width="1" height="13" fill="#ef5350"/><rect x="413" y="236" width="3" height="2" fill="#ef5350"/><rect x="418" y="224" width="1" height="37" fill="#ef5350"/><rect x="417" y="237" width="3" height="2" fill="#ef5350"/><rect x="423" y="238" width="1" height="29" fill="#ef5350"/><rect x="422" y="238" width="3" height="13" fill="#ef5350"/><rect x="428" y="245" width="1" height="28" fill="#ef5350"/><rect x="427" y="250" width="3" height="19" fill="#ef5350"/><rect x="432" y="254" width="1" height="24" fill="#26a69a"/><rect x="431" y="265" width="3" height="4" fill="#26a69a"/><rect x="437" y="250" width="1" height="30" fill="#26a69a"/><rect x="436" y="257" width="3" height="9" fill="#26a69a"/><rect x="441" y="235" width="1" height="31" fill="#26a69a"/><rect x="440" y="236" width="3" height="22" fill="#26a69a"/><rect x="446" y="234" width="1" height="12" fill="#ef5350"/><rect x="445" y="236" width="3" height="3" fill="#ef5350"/><rect x="451" y="228" width="1" height="15" fill="#26a69a"/><rect x="450" y="234" width="3" height="5" fill="#26a69a"/><rect x="455" y="234" width="1" height="35" fill="#ef5350"/><rect x="454" y="234" width="3" height="23" fill="#ef5350"/><rect x="460" y="246" width="1" height="15" fill="#ef5350"/><rect x="459" y="256" width="3" height="2" fill="#ef5350"/><rect x="464" y="229" width="1" height="43" fill="#26a69a"/><rect x="463" y="236" width="3" height="22" fill="#26a69a"/><rect x="469" y="216" width="1" height="30" fill="#ef5350"/><rect x="468" y="236" width="3" height="7" fill="#ef5350"/><rect x="473" y="240" width="1" height="31" fill="#ef5350"/><rect x="472" y="242" width="3" height="27" fill="#ef5350"/><rect x="478" y="261" width="1" height="48" fill="#ef5350"/><rect x="477" y="268" width="3" height="26" fill="#ef5350"/><rect x="483" y="287" width="1" height="18" fill="#ef5350"/><rect x="482" y="293" width="3" height="7" fill="#ef5350"/><rect x="487" y="279" width="1" height="28" fill="#26a69a"/><rect x="486" y="288" width="3" height="12" fill="#26a69a"/><rect x="492" y="280" width="1" height="19" fill="#ef5350"/><rect x="491" y="287" width="3" height="6" fill="#ef5350"/><rect x="496" y="284" width="1" height="12" fill="#26a69a"/><rect x="495" y="289" width="3" height="4" fill="#26a69a"/><rect x="501" y="288" width="1" height="62" fill="#ef5350"/><rect x="500" y="289" width="3" height="41" fill="#ef5350"/><rect x="505" y="329" width="1" height="31" fill="#ef5350"/><rect x="504" y="329" width="3" height="16" fill="#ef5350"/><rect x="510" y="312" width="1" height="36" fill="#26a69a"/><rect x="509" y="314" width="3" height="31" fill="#26a69a"/><rect x="515" y="286" width="1" height="29" fill="#26a69a"/><rect x="514" y="287" width="3" height="28" fill="#26a69a"/><rect x="519" y="264" width="1" height="27" fill="#26a69a"/><rect x="518" y="266" width="3" height="22" fill="#26a69a"/><rect x="524" y="222" width="1" height="69" fill="#26a69a"/><rect x="523" y="233" width="3" height="33" fill="#26a69a"/><rect x="528" y="213" width="1" height="31" fill="#26a69a"/><rect x="527" y="221" width="3" height="13" fill="#26a69a"/><rect x="533" y="189" width="1" height="46" fill="#26a69a"/><rect x="532" y="196" width="3" height="26" fill="#26a69a"/><rect x="537" y="188" width="1" height="26" fill="#ef5350"/><rect x="536" y="196" width="3" height="9" fill="#ef5350"/><rect x="542" y="197" width="1" height="15" fill="#ef5350"/><rect x="541" y="204" width="3" height="6" fill="#ef5350"/><rect x="547" y="158" width="1" height="52" fill="#26a69a"/><rect x="546" y="178" width="3" height="32" fill="#26a69a"/><rect x="551" y="157" width="1" height="27" fill="#26a69a"/><rect x="550" y="163" width="3" height="16" fill="#26a69a"/><rect x="556" y="153" width="1" height="39" fill="#ef5350"/><rect x="555" y="163" width="3" height="26" fill="#ef5350"/><rect x="560" y="182" width="1" height="18" fill="#ef5350"/><rect x="559" y="188" width="3" height="4" fill="#ef5350"/><rect x="565" y="188" width="1" height="20" fill="#ef5350"/><rect x="564" y="191" width="3" height="7" fill="#ef5350"/><rect x="569" y="192" width="1" height="11" fill="#26a69a"/><rect x="568" y="196" width="3" height="2" fill="#26a69a"/><rect x="574" y="177" width="1" height="19" fill="#26a69a"/><rect x="573" y="183" width="3" height="13" fill="#26a69a"/><rect x="579" y="171" width="1" height="18" fill="#ef5350"/><rect x="578" y="183" width="3" height="5" fill="#ef5350"/><rect x="583" y="181" width="1" height="10" fill="#26a69a"/><rect x="582" y="184" width="3" height="4" fill="#26a69a"/><rect x="588" y="167" width="1" height="21" fill="#26a69a"/><rect x="587" y="182" width="3" height="3" fill="#26a69a"/><rect x="592" y="174" width="1" height="13" fill="#26a69a"/><rect x="591" y="181" width="3" height="2" fill="#26a69a"/><rect x="597" y="168" width="1" height="17" fill="#26a69a"/><rect x="596" y="176" width="3" height="6" fill="#26a69a"/><rect x="602" y="154" width="1" height="23" fill="#26a69a"/><rect x="601" y="167" width="3" height="10" fill="#26a69a"/><rect x="606" y="160" width="1" height="14" fill="#ef5350"/><rect x="605" y="167" width="3" height="1" fill="#ef5350"/><rect x="611" y="164" width="1" height="12" fill="#ef5350"/><rect x="610" y="167" width="3" height="9" fill="#ef5350"/><rect x="615" y="169" width="1" height="12" fill="#ef5350"/><rect x="614" y="175" width="3" height="6" fill="#ef5350"/><rect x="620" y="177" width="1" height="14" fill="#ef5350"/><rect x="619" y="180" width="3" height="7" fill="#ef5350"/><rect x="624" y="179" width="1" height="11" fill="#26a69a"/><rect x="623" y="179" width="3" height="8" fill="#26a69a"/><rect x="629" y="170" width="1" height="11" fill="#26a69a"/><rect x="628" y="174" width="3" height="6" fill="#26a69a"/><rect x="634" y="171" width="1" height="17" fill="#ef5350"/><rect x="633" y="174" width="3" height="14" fill="#ef5350"/><rect x="638" y="178" width="1" height="13" fill="#26a69a"/><rect x="637" y="179" width="3" height="8" fill="#26a69a"/><rect x="643" y="175" width="1" height="9" fill="#26a69a"/><rect x="642" y="177" width="3" height="3" fill="#26a69a"/><rect x="647" y="174" width="1" height="18" fill="#ef5350"/><rect x="646" y="177" width="3" height="14" fill="#ef5350"/><rect x="652" y="178" width="1" height="20" fill="#26a69a"/><rect x="651" y="186" width="3" height="5" fill="#26a69a"/><rect x="656" y="178" width="1" height="9" fill="#26a69a"/><rect x="655" y="181" width="3" height="6" fill="#26a69a"/><rect x="661" y="171" width="1" height="20" fill="#ef5350"/><rect x="660" y="181" width="3" height="5" fill="#ef5350"/><rect x="666" y="175" width="1" height="14" fill="#26a69a"/><rect x="665" y="177" width="3" height="9" fill="#26a69a"/><rect x="670" y="117" width="1" height="61" fill="#26a69a"/><rect x="669" y="123" width="3" height="55" fill="#26a69a"/><rect x="675" y="117" width="1" height="51" fill="#ef5350"/><rect x="674" y="123" width="3" height="45" fill="#ef5350"/><rect x="679" y="157" width="1" height="59" fill="#ef5350"/><rect x="678" y="167" width="3" height="43" fill="#ef5350"/><rect x="684" y="187" width="1" height="29" fill="#26a69a"/><rect x="683" y="208" width="3" height="2" fill="#26a69a"/><rect x="688" y="201" width="1" height="73" fill="#ef5350"/><rect x="687" y="208" width="3" height="58" fill="#ef5350"/><rect x="693" y="259" width="1" height="29" fill="#ef5350"/><rect x="692" y="265" width="3" height="15" fill="#ef5350"/><rect x="698" y="268" width="1" height="28" fill="#ef5350"/><rect x="697" y="279" width="3" height="6" fill="#ef5350"/><rect x="702" y="277" width="1" height="15" fill="#ef5350"/><rect x="701" y="284" width="3" height="2" fill="#ef5350"/><rect x="707" y="254" width="1" height="50" fill="#26a69a"/><rect x="706" y="274" width="3" height="11" fill="#26a69a"/><rect x="711" y="266" width="1" height="21" fill="#26a69a"/><rect x="710" y="266" width="3" height="9" fill="#26a69a"/><rect x="716" y="239" width="1" height="30" fill="#26a69a"/><rect x="715" y="254" width="3" height="13" fill="#26a69a"/><rect x="720" y="235" width="1" height="34" fill="#ef5350"/><rect x="719" y="254" width="3" height="8" fill="#ef5350"/><rect x="725" y="258" width="1" height="14" fill="#ef5350"/><rect x="724" y="261" width="3" height="2" fill="#ef5350"/><rect x="730" y="259" width="1" height="13" fill="#ef5350"/><rect x="729" y="262" width="3" height="9" fill="#ef5350"/><rect x="734" y="251" width="1" height="67" fill="#26a69a"/><rect x="733" y="259" width="3" height="12" fill="#26a69a"/><rect x="739" y="251" width="1" height="19" fill="#26a69a"/><rect x="738" y="253" width="3" height="7" fill="#26a69a"/><rect x="743" y="244" width="1" height="32" fill="#ef5350"/><rect x="742" y="253" width="3" height="21" fill="#ef5350"/><rect x="748" y="271" width="1" height="30" fill="#26a69a"/><rect x="747" y="271" width="3" height="3" fill="#26a69a"/><rect x="753" y="265" width="1" height="21" fill="#ef5350"/><rect x="752" y="271" width="3" height="4" fill="#ef5350"/><rect x="757" y="263" width="1" height="17" fill="#26a69a"/><rect x="756" y="263" width="3" height="12" fill="#26a69a"/><rect x="762" y="261" width="1" height="15" fill="#ef5350"/><rect x="761" y="263" width="3" height="10" fill="#ef5350"/><rect x="766" y="252" width="1" height="29" fill="#ef5350"/><rect x="765" y="272" width="3" height="4" fill="#ef5350"/><rect x="771" y="271" width="1" height="19" fill="#ef5350"/><rect x="770" y="275" width="3" height="13" fill="#ef5350"/><rect x="775" y="271" width="1" height="61" fill="#ef5350"/><rect x="774" y="287" width="3" height="30" fill="#ef5350"/><rect x="780" y="314" width="1" height="128" fill="#ef5350"/><rect x="779" y="316" width="3" height="66" fill="#ef5350"/><rect x="785" y="361" width="1" height="41" fill="#26a69a"/><rect x="784" y="373" width="3" height="9" fill="#26a69a"/><rect x="789" y="332" width="1" height="47" fill="#26a69a"/><rect x="788" y="345" width="3" height="29" fill="#26a69a"/><rect x="794" y="345" width="1" height="13" fill="#ef5350"/><rect x="793" y="345" width="3" height="8" fill="#ef5350"/><rect x="798" y="330" width="1" height="26" fill="#26a69a"/><rect x="797" y="339" width="3" height="14" fill="#26a69a"/><rect x="803" y="333" width="1" height="16" fill="#ef5350"/><rect x="802" y="340" width="3" height="9" fill="#ef5350"/><rect x="807" y="342" width="1" height="15" fill="#26a69a"/><rect x="806" y="347" width="3" height="2" fill="#26a69a"/><rect x="812" y="340" width="1" height="14" fill="#ef5350"/><rect x="811" y="347" width="3" height="2" fill="#ef5350"/><rect x="817" y="332" width="1" height="28" fill="#26a69a"/><rect x="816" y="341" width="3" height="8" fill="#26a69a"/><rect x="821" y="330" width="1" height="16" fill="#26a69a"/><rect x="820" y="335" width="3" height="7" fill="#26a69a"/><rect x="826" y="322" width="1" height="16" fill="#ef5350"/><rect x="825" y="335" width="3" height="1" fill="#ef5350"/><rect x="830" y="327" width="1" height="15" fill="#26a69a"/><rect x="829" y="330" width="3" height="6" fill="#26a69a"/><rect x="835" y="327" width="1" height="18" fill="#ef5350"/><rect x="834" y="330" width="3" height="4" fill="#ef5350"/><rect x="839" y="318" width="1" height="16" fill="#26a69a"/><rect x="838" y="320" width="3" height="14" fill="#26a69a"/><rect x="844" y="314" width="1" height="11" fill="#ef5350"/><rect x="843" y="320" width="3" height="2" fill="#ef5350"/><rect x="849" y="321" width="1" height="29" fill="#ef5350"/><rect x="848" y="321" width="3" height="21" fill="#ef5350"/><rect x="853" y="336" width="1" height="18" fill="#ef5350"/><rect x="852" y="341" width="3" height="3" fill="#ef5350"/><rect x="858" y="327" width="1" height="18" fill="#26a69a"/><rect x="857" y="331" width="3" height="13" fill="#26a69a"/><rect x="862" y="327" width="1" height="19" fill="#ef5350"/><rect x="861" y="331" width="3" height="15" fill="#ef5350"/><rect x="867" y="334" width="1" height="15" fill="#26a69a"/><rect x="866" y="335" width="3" height="11" fill="#26a69a"/><rect x="871" y="321" width="1" height="53" fill="#26a69a"/><rect x="870" y="323" width="3" height="13" fill="#26a69a"/><rect x="876" y="322" width="1" height="44" fill="#ef5350"/><rect x="875" y="323" width="3" height="42" fill="#ef5350"/><rect x="881" y="359" width="1" height="54" fill="#ef5350"/><rect x="880" y="364" width="3" height="44" fill="#ef5350"/><rect x="885" y="367" width="1" height="43" fill="#26a69a"/><rect x="884" y="396" width="3" height="12" fill="#26a69a"/><rect x="890" y="375" width="1" height="37" fill="#26a69a"/><rect x="889" y="384" width="3" height="13" fill="#26a69a"/><rect x="894" y="384" width="1" height="20" fill="#ef5350"/><rect x="893" y="384" width="3" height="20" fill="#ef5350"/><rect x="899" y="381" width="1" height="25" fill="#26a69a"/><rect x="898" y="386" width="3" height="18" fill="#26a69a"/><rect x="904" y="378" width="1" height="96" fill="#ef5350"/><rect x="903" y="386" width="3" height="86" fill="#ef5350"/><rect x="908" y="462" width="1" height="59" fill="#ef5350"/><rect x="907" y="471" width="3" height="3" fill="#ef5350"/><rect x="913" y="439" width="1" height="37" fill="#26a69a"/><rect x="912" y="461" width="3" height="13" fill="#26a69a"/><rect x="917" y="456" width="1" height="54" fill="#ef5350"/><rect x="916" y="461" width="3" height="45" fill="#ef5350"/><rect x="922" y="461" width="1" height="66" fill="#26a69a"/><rect x="921" y="472" width="3" height="34" fill="#26a69a"/><rect x="926" y="459" width="1" height="52" fill="#ef5350"/><rect x="925" y="472" width="3" height="38" fill="#ef5350"/><rect x="931" y="500" width="1" height="43" fill="#ef5350"/><rect x="930" y="509" width="3" height="10" fill="#ef5350"/><rect x="936" y="518" width="1" height="45" fill="#ef5350"/><rect x="935" y="518" width="3" height="9" fill="#ef5350"/><rect x="940" y="499" width="1" height="36" fill="#26a69a"/><rect x="939" y="515" width="3" height="12" fill="#26a69a"/><rect x="945" y="457" width="1" height="130" fill="#ef5350"/><rect x="944" y="514" width="3" height="45" fill="#ef5350"/><rect x="949" y="498" width="1" height="66" fill="#26a69a"/><rect x="948" y="511" width="3" height="49" fill="#26a69a"/><rect x="954" y="496" width="1" height="41" fill="#ef5350"/><rect x="953" y="511" width="3" height="21" fill="#ef5350"/><rect x="958" y="509" width="1" height="39" fill="#26a69a"/><rect x="957" y="520" width="3" height="12" fill="#26a69a"/><rect x="963" y="488" width="1" height="36" fill="#26a69a"/><rect x="962" y="500" width="3" height="22" fill="#26a69a"/><rect x="968" y="497" width="1" height="20" fill="#ef5350"/><rect x="967" y="500" width="3" height="8" fill="#ef5350"/><rect x="972" y="493" width="1" height="20" fill="#26a69a"/><rect x="971" y="493" width="3" height="15" fill="#26a69a"/><rect x="977" y="493" width="1" height="23" fill="#ef5350"/><rect x="976" y="493" width="3" height="18" fill="#ef5350"/><rect x="981" y="508" width="1" height="24" fill="#ef5350"/><rect x="980" y="510" width="3" height="15" fill="#ef5350"/><rect x="986" y="520" width="1" height="31" fill="#ef5350"/><rect x="985" y="524" width="3" height="26" fill="#ef5350"/><rect x="990" y="536" width="1" height="41" fill="#ef5350"/><rect x="989" y="549" width="3" height="5" fill="#ef5350"/><rect x="995" y="549" width="1" height="48" fill="#ef5350"/><rect x="994" y="553" width="3" height="37" fill="#ef5350"/><rect x="1000" y="552" width="1" height="44" fill="#26a69a"/><rect x="999" y="556" width="3" height="34" fill="#26a69a"/><rect x="1004" y="544" width="1" height="98" fill="#ef5350"/><rect x="1003" y="556" width="3" height="65" fill="#ef5350"/><rect x="1009" y="583" width="1" height="41" fill="#26a69a"/><rect x="1008" y="587" width="3" height="35" fill="#26a69a"/><rect x="1013" y="561" width="1" height="34" fill="#26a69a"/><rect x="1012" y="565" width="3" height="23" fill="#26a69a"/><rect x="1018" y="559" width="1" height="34" fill="#ef5350"/><rect x="1017" y="565" width="3" height="27" fill="#ef5350"/><rect x="1022" y="563" width="1" height="31" fill="#26a69a"/><rect x="1021" y="568" width="3" height="24" fill="#26a69a"/><rect x="1027" y="562" width="1" height="24" fill="#ef5350"/><rect x="1026" y="568" width="3" height="18" fill="#ef5350"/><rect x="1032" y="564" width="1" height="27" fill="#26a69a"/><rect x="1031" y="574" width="3" height="12" fill="#26a69a"/><rect x="1036" y="566" width="1" height="19" fill="#26a69a"/><rect x="1035" y="568" width="3" height="7" fill="#26a69a"/><rect x="1041" y="551" width="1" height="26" fill="#26a69a"/><rect x="1040" y="562" width="3" height="7" fill="#26a69a"/><rect x="1045" y="555" width="1" height="22" fill="#ef5350"/><rect x="1044" y="562" width="3" height="11" fill="#ef5350"/><rect x="1050" y="572" width="1" height="3" fill="#ef5350"/><rect x="1049" y="573" width="3" height="2" fill="#ef5350"/></g>
<line x1="13" y1="574.5" x2="1154" y2="574.5" stroke="#ef5350" stroke-width="1" stroke-dasharray="1 2"/>
<rect x="1154" y="566" width="65" height="31" fill="#ef5350"/>
<text x="1164" y="579" font-size="12" fill="#ffffff" stroke="#ffffff" stroke-width="0.3" textLength="47.6" lengthAdjust="spacingAndGlyphs">43305.71</text>
<text x="1164" y="592.6" font-size="12" fill="#ffffff" stroke="#ffffff" stroke-width="0.3" textLength="30" lengthAdjust="spacingAndGlyphs">29:00</text>
<g font-size="12" stroke-width="0.3" shape-rendering="auto">
<text x="18" y="46.2" fill="#c9ccd4" stroke="#c9ccd4" textLength="152" lengthAdjust="spacingAndGlyphs">Bitcoin / BUSD, 30, BINANCE</text>
<text x="178.6" y="46.2" fill="#c9ccd4" stroke="#c9ccd4">O</text><text x="187.5" y="46.2" fill="#ef5350" stroke="#ef5350" textLength="47" lengthAdjust="spacingAndGlyphs">43309.75</text>
<text x="242.2" y="46.2" fill="#c9ccd4" stroke="#c9ccd4">H</text><text x="251" y="46.2" fill="#ef5350" stroke="#ef5350" textLength="47" lengthAdjust="spacingAndGlyphs">43324.18</text>
<text x="305.7" y="46.2" fill="#c9ccd4" stroke="#c9ccd4">L</text><text x="313" y="46.2" fill="#ef5350" stroke="#ef5350" textLength="47" lengthAdjust="spacingAndGlyphs">43305.70</text>
<text x="367.5" y="46.2" fill="#c9ccd4" stroke="#c9ccd4">C</text><text x="375.5" y="46.2" fill="#ef5350" stroke="#ef5350" textLength="47" lengthAdjust="spacingAndGlyphs">43305.71</text>
<text x="431" y="46.2" fill="#ef5350" stroke="#ef5350" textLength="77.5" lengthAdjust="spacingAndGlyphs">−4.05 (−0.01%)</text>
<text x="18" y="62.7" fill="#c9ccd4" stroke="#c9ccd4">Vol</text><text x="41" y="62.7" fill="#ef5350" stroke="#ef5350">6</text>
<text x="18" y="79.5" fill="#c9ccd4" stroke="#c9ccd4">Vol</text><text x="41" y="79.5" fill="#ef5350" stroke="#ef5350">6</text>
</g>
<g fill="#131722" shape-rendering="auto">
<rect x="10" y="887" width="8" height="3.5"/>
<rect x="13.5" y="887" width="4.5" height="10"/>
<circle cx="21.6" cy="888.8" r="1.9"/>
<polygon points="24.7,887 29.3,887 25.9,897 21.2,897"/>
</g>
<rect x="10" y="848" width="1" height="27" fill="#5d606b"/>
<text x="33" y="896.7" font-size="12.5" fill="#2a2e39" textLength="70.5" lengthAdjust="spacingAndGlyphs">TradingView</text>
</svg>
</body></html>
